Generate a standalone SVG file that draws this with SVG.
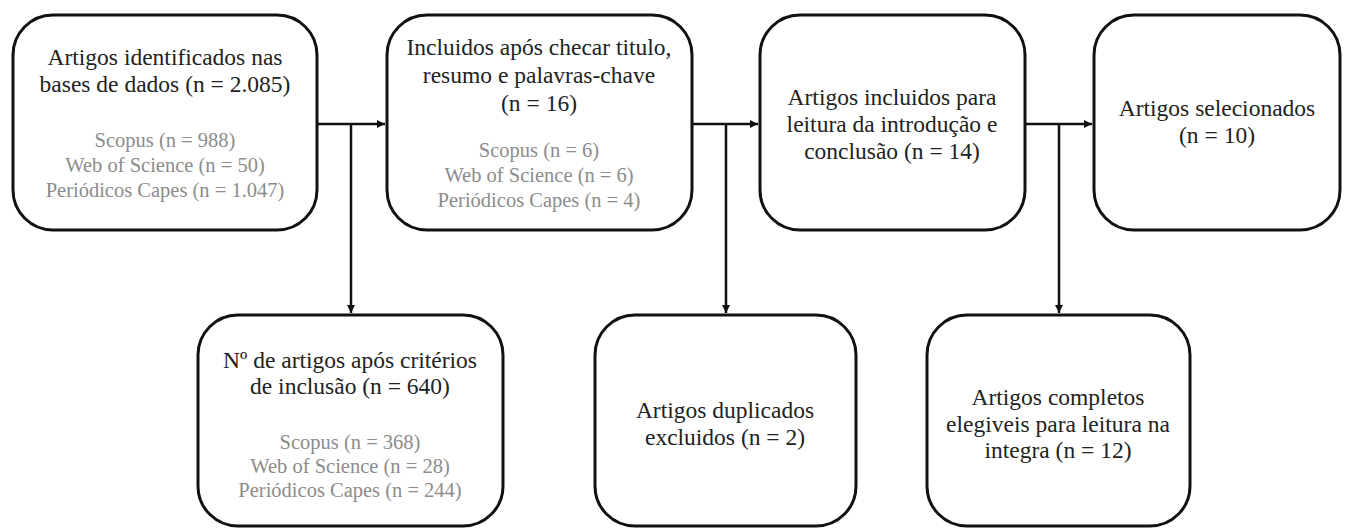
<svg xmlns="http://www.w3.org/2000/svg" width="1346" height="529" viewBox="0 0 1346 529">
<style>
.box{fill:#fff;stroke:#111;stroke-width:3}
.lbl{font-family:'Liberation Serif',serif;font-size:23.5px;fill:#222;text-anchor:middle}
.sub{font-family:'Liberation Serif',serif;font-size:20.5px;fill:#8c8c8c;text-anchor:middle}
.c{fill:none;stroke:#111;stroke-width:2.5}
</style>
<defs>
<marker id="arr" viewBox="0 0 10 10" refX="10" refY="5" markerWidth="10" markerHeight="8" markerUnits="userSpaceOnUse" orient="auto">
<path d="M0,0 L10,5 L0,10 z" fill="#111"/>
</marker>
</defs>
<rect width="1346" height="529" fill="#fff"/>
<g id="connectors">
<path class="c" d="M317,124 H385" marker-end="url(#arr)"/>
<path class="c" d="M351,124 V313" marker-end="url(#arr)"/>
<path class="c" d="M692,124 H758" marker-end="url(#arr)"/>
<path class="c" d="M726,124 V313" marker-end="url(#arr)"/>
<path class="c" d="M1025,124 H1092" marker-end="url(#arr)"/>
<path class="c" d="M1059,124 V313" marker-end="url(#arr)"/>
</g>
<g id="n1">
<rect class="box" x="13" y="15" width="304" height="215" rx="40"/>
<text class="lbl" x="165" y="65">Artigos identificados nas</text>
<text class="lbl" x="165" y="92">bases de dados (n = 2.085)</text>
<text class="sub" x="165" y="147">Scopus (n = 988)</text>
<text class="sub" x="165" y="172">Web of Science (n = 50)</text>
<text class="sub" x="165" y="197">Periódicos Capes (n = 1.047)</text>
</g>
<g id="n2">
<rect class="box" x="387" y="15" width="305" height="215" rx="40"/>
<text class="lbl" x="539" y="55">Incluidos após checar titulo,</text>
<text class="lbl" x="539" y="83">resumo e palavras-chave</text>
<text class="lbl" x="539" y="111">(n = 16)</text>
<text class="sub" x="539" y="157">Scopus (n = 6)</text>
<text class="sub" x="539" y="182">Web of Science (n = 6)</text>
<text class="sub" x="539" y="207">Periódicos Capes (n = 4)</text>
</g>
<g id="n3">
<rect class="box" x="760" y="15" width="265" height="215" rx="40"/>
<text class="lbl" x="892" y="105">Artigos incluidos para</text>
<text class="lbl" x="892" y="132">leitura da introdução e</text>
<text class="lbl" x="892" y="159">conclusão (n = 14)</text>
</g>
<g id="n4">
<rect class="box" x="1094" y="15" width="246" height="215" rx="40"/>
<text class="lbl" x="1217" y="116">Artigos selecionados</text>
<text class="lbl" x="1217" y="143">(n = 10)</text>
</g>
<g id="n5">
<rect class="box" x="198" y="315" width="305" height="211" rx="40"/>
<text class="lbl" x="350" y="368">Nº de artigos após critérios</text>
<text class="lbl" x="350" y="394">de inclusão (n = 640)</text>
<text class="sub" x="350" y="449">Scopus (n = 368)</text>
<text class="sub" x="350" y="473">Web of Science (n = 28)</text>
<text class="sub" x="350" y="497">Periódicos Capes (n = 244)</text>
</g>
<g id="n6">
<rect class="box" x="595" y="315" width="261" height="211" rx="40"/>
<text class="lbl" x="725" y="418">Artigos duplicados</text>
<text class="lbl" x="725" y="445">excluidos (n = 2)</text>
</g>
<g id="n7">
<rect class="box" x="927" y="315" width="263" height="211" rx="40"/>
<text class="lbl" x="1058" y="405">Artigos completos</text>
<text class="lbl" x="1058" y="432">elegiveis para leitura na</text>
<text class="lbl" x="1058" y="458">integra (n = 12)</text>
</g>
</svg>
